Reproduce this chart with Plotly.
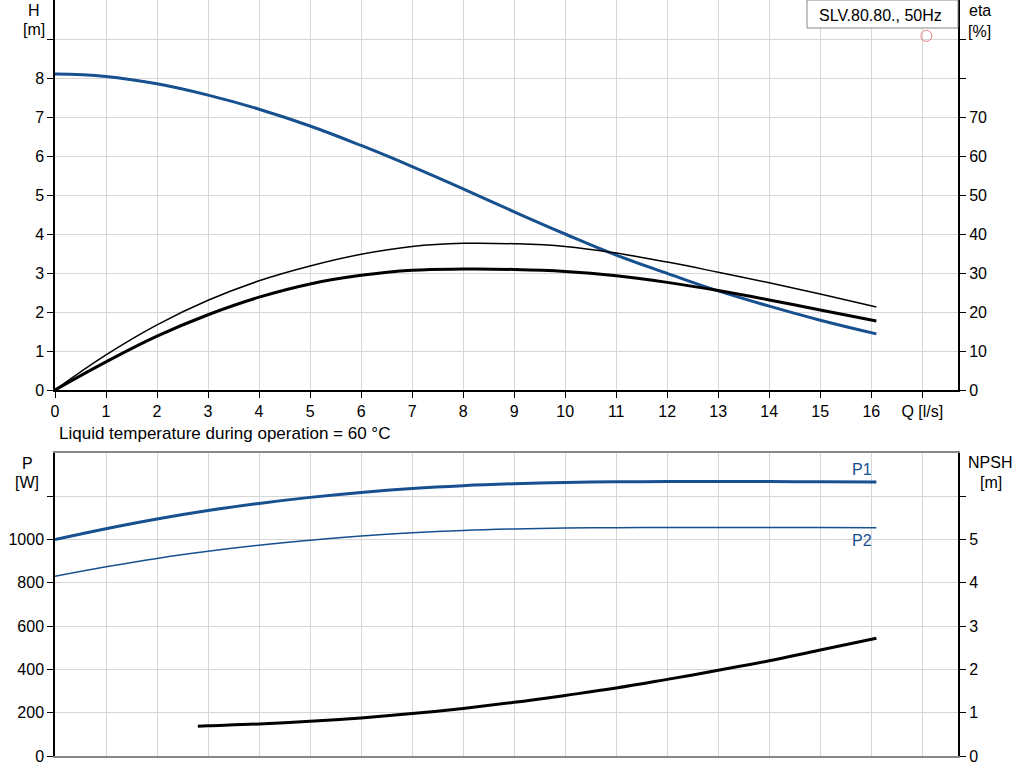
import plotly.graph_objects as go

# ---- data ----
q = [0, 1, 2, 3, 4, 5, 6, 7, 8, 9, 10, 11, 12, 13, 14, 15, 16.1]
head_m = [8.10, 8.04, 7.85, 7.56, 7.20, 6.77, 6.27, 5.73, 5.16, 4.57, 4.00, 3.46, 2.99, 2.54, 2.15, 1.79, 1.44]
eta_thin = [0, 9.0, 16.7, 23.0, 28.0, 31.8, 34.8, 36.8, 37.6, 37.5, 36.8, 35.1, 32.8, 30.2, 27.5, 24.6, 21.3]
eta_thick = [0, 7.2, 13.8, 19.3, 23.8, 27.2, 29.4, 30.7, 31.0, 30.9, 30.4, 29.3, 27.6, 25.5, 23.1, 20.5, 17.7]
p1_w = [1000, 1050, 1095, 1134, 1167, 1195, 1218, 1236, 1249, 1258, 1264, 1267, 1268, 1268, 1268, 1267, 1266]
p2_w = [830, 874, 913, 946, 974, 997, 1016, 1031, 1042, 1049, 1053, 1055, 1056, 1056, 1056, 1056, 1055]
q_npsh = [2.8, 3, 4, 5, 6, 7, 8, 9, 10, 11, 12, 13, 14, 15, 16.1]
npsh_m = [0.69, 0.70, 0.74, 0.80, 0.88, 0.98, 1.10, 1.24, 1.40, 1.57, 1.77, 1.98, 2.20, 2.45, 2.72]
duty_q = [17.08]
duty_h = [9.08]

x_ticks = list(range(0, 18))
x_ticktext = [str(v) for v in range(0, 17)] + ["Q [l/s]"]
h_ticks = list(range(0, 10))
h_ticktext = [str(v) for v in range(0, 9)] + [""]
eta_ticks = list(range(0, 100, 10))
eta_ticktext = [str(v) for v in range(0, 80, 10)] + ["", ""]
p_ticks = list(range(0, 1400, 200))
p_ticktext = [str(v) for v in range(0, 1200, 200)] + [""]
npsh_ticks = list(range(0, 7))
npsh_ticktext = [str(v) for v in range(0, 6)] + [""]

BLUE = "#17508f"
GRID = "#d6d6d6"
FONT = "Liberation Sans, Arial, sans-serif"
FS = 16
SM = 1.2

fig = go.Figure()
fig.add_trace(go.Scatter(x=q, y=eta_thin, xaxis="x", yaxis="y2", mode="lines",
                         line=dict(color="black", width=1.5, shape="spline", smoothing=SM)))
fig.add_trace(go.Scatter(x=q, y=eta_thick, xaxis="x", yaxis="y2", mode="lines",
                         line=dict(color="black", width=3, shape="spline", smoothing=SM)))
fig.add_trace(go.Scatter(x=q, y=head_m, xaxis="x", yaxis="y", mode="lines",
                         line=dict(color=BLUE, width=3, shape="spline", smoothing=SM)))
fig.add_trace(go.Scatter(x=duty_q, y=duty_h, xaxis="x", yaxis="y", mode="markers",
                         marker=dict(symbol="circle-open", size=11, color="#f08080",
                                     line=dict(width=1, color="#f08080"))))
fig.add_trace(go.Scatter(x=q, y=p1_w, xaxis="x2", yaxis="y3", mode="lines",
                         line=dict(color=BLUE, width=3, shape="spline", smoothing=SM)))
fig.add_trace(go.Scatter(x=q, y=p2_w, xaxis="x2", yaxis="y3", mode="lines",
                         line=dict(color=BLUE, width=1.5, shape="spline", smoothing=SM)))
fig.add_trace(go.Scatter(x=q_npsh, y=npsh_m, xaxis="x2", yaxis="y4", mode="lines",
                         line=dict(color="black", width=3, shape="spline", smoothing=SM)))

L, R, T, B = 55, 66, 0, 25
W, H = 1024, 781
PW = W - L - R
PH = H - T - B


def px(xp):
    return (xp - L) / PW


def py(yp):
    return (H - B - yp) / PH


top_dom = [py(390), 1.0]
bot_dom = [0.0, py(453)]

axis_common = dict(showgrid=True, gridcolor=GRID, gridwidth=1, zeroline=False,
                   ticks="outside", ticklen=6, tickcolor="black",
                   tickfont=dict(family=FONT, size=FS, color="black"))

fig.update_layout(
    width=W, height=H, margin=dict(l=L, r=R, t=T, b=B),
    paper_bgcolor="white", plot_bgcolor="white", showlegend=False,
    font=dict(family=FONT, size=FS, color="black"),
    xaxis=dict(domain=[0, 1], range=[0, 17.7], anchor="y", tickmode="array",
               tickvals=x_ticks, ticktext=x_ticktext, showline=True,
               linecolor="black", linewidth=1.5, **axis_common),
    yaxis=dict(domain=top_dom, range=[0, 10], anchor="x", tickmode="array",
               tickvals=h_ticks, ticktext=h_ticktext, showline=True,
               linecolor="black", linewidth=1.5, **axis_common),
    yaxis2=dict(overlaying="y", side="right", range=[0, 100], anchor="x",
                tickmode="array", tickvals=eta_ticks, ticktext=eta_ticktext,
                showline=True, linecolor="black", linewidth=2,
                **{**axis_common, "showgrid": False}),
    xaxis2=dict(domain=[0, 1], range=[0, 17.7], anchor="y3", tickmode="array",
                tickvals=x_ticks, showticklabels=False, showline=True,
                linecolor="#888888", linewidth=1.5, mirror=True,
                **{**axis_common, "ticks": ""}),
    yaxis3=dict(domain=bot_dom, range=[0, 1400], anchor="x2", tickmode="array",
                tickvals=p_ticks, ticktext=p_ticktext, showline=True,
                linecolor="black", linewidth=1.5, **axis_common),
    yaxis4=dict(overlaying="y3", side="right", range=[0, 7], anchor="x2",
                tickmode="array", tickvals=npsh_ticks, ticktext=npsh_ticktext,
                showline=True, linecolor="black", linewidth=2,
                **{**axis_common, "showgrid": False}),
)

fig.add_shape(type="rect", xref="paper", yref="paper",
              x0=px(807), x1=px(958), y0=py(28), y1=py(0),
              line=dict(color="#888888", width=1), fillcolor="white", layer="above")

ann = []


def note(text, xp, yp, color="black", xanchor="center", size=FS):
    ann.append(dict(text=text, xref="paper", yref="paper", x=px(xp), y=py(yp),
                    xanchor=xanchor, yanchor="middle", showarrow=False,
                    font=dict(family=FONT, size=size, color=color)))


note("SLV.80.80., 50Hz", 880, 15)
note("H", 34, 10)
note("[m]", 34, 30)
note("eta", 980, 10)
note("[%]", 979, 31)
note("Liquid temperature during operation = 60 °C", 57, 433, xanchor="left", size=17)
note("P", 27, 463)
note("[W]", 27, 483)
note("NPSH", 990, 462)
note("[m]", 991, 483)

ann.append(dict(text="P1", x=15.82, y=1322, xref="x2", yref="y3", showarrow=False,
                xanchor="center", yanchor="middle", font=dict(family=FONT, size=FS, color=BLUE)))
ann.append(dict(text="P2", x=15.82, y=995, xref="x2", yref="y3", showarrow=False,
                xanchor="center", yanchor="middle", font=dict(family=FONT, size=FS, color=BLUE)))

fig.update_layout(annotations=ann)

fig.write_html("out.html", config={"displayModeBar": False},
               post_script="document.body.style.margin='0px';")
